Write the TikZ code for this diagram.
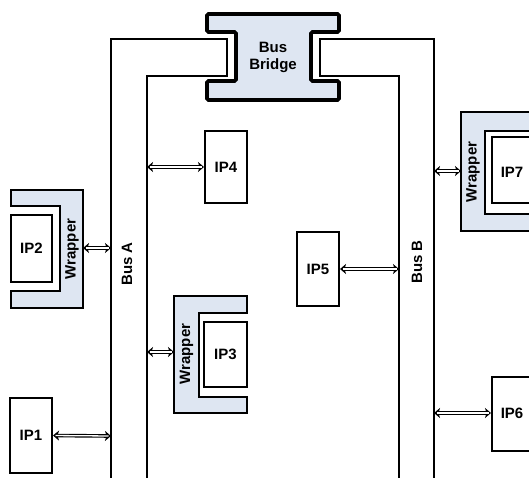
\documentclass[tikz,border=0pt]{standalone}
\usepackage{fontspec}
\setmainfont{Liberation Sans}
\usetikzlibrary{arrows.meta}
\definecolor{wrapfill}{RGB}{222,230,242}
\begin{document}
\begin{tikzpicture}[x=1pt,y=-1pt,
  lbl/.style={font=\fontsize{15}{18}\selectfont\bfseries, inner sep=0pt},
  ipbox/.style={draw, line width=2pt, fill=white, inner sep=0pt, font=\fontsize{15}{18}\selectfont\bfseries},
  wrap/.style={draw, line width=2pt, fill=wrapfill, line join=miter},
  bus/.style={draw, line width=2pt, line join=miter},
  bridge/.style={draw, line width=3.6pt, fill=wrapfill, rounded corners=1.5pt},
  biarrow/.style={draw, line width=3.6pt, {Stealth[length=6pt,width=10pt,inset=1.5pt]}-{Stealth[length=6pt,width=10pt,inset=1.5pt]},
     postaction={draw=white, line width=1.3pt, -, shorten <=2.5pt, shorten >=2.5pt}}]
\useasboundingbox (0,0) rectangle (529,477);
\clip (0,0) rectangle (529,477);
% buses
\draw[bus] (111,485) -- (111,39) -- (227,39) -- (227,76) -- (147,76) -- (147,485);
\draw[bus] (399,485) -- (399,76) -- (320,76) -- (320,39) -- (434,39) -- (434,485);
\node[lbl, rotate=90] (busA) at (127,264) {Bus A};
\node[lbl, rotate=90] (busB) at (417,262) {Bus B};
% bus bridge
\draw[bridge] (207,14) -- (339,14) -- (339,32) -- (311,32) -- (311,81) -- (339,81) -- (339,100) -- (207,100) -- (207,81) -- (236,81) -- (236,32) -- (207,32) -- cycle;
\node[lbl, align=center] (bridge) at (273,57) {Bus\\[-1pt]Bridge};
% bus coordinates
\coordinate (a2) at (111,248);
\coordinate (a1) at (111,436);
\coordinate (a4) at (147,167);
\coordinate (a3) at (147,352);
\coordinate (b5) at (399,269);
\coordinate (b7) at (434,171);
\coordinate (b6) at (434,413);
% IP2 wrapper
\draw[wrap] (11,190) -- (83,190) -- (83,308) -- (11,308) -- (11,291) -- (60,291) -- (60,206) -- (11,206) -- cycle;
\node[ipbox, minimum width=41pt, minimum height=67pt] (ip2) at (31.5,248.5) {IP2};
\node[lbl, rotate=90] (w2) at (72,249) {Wrapper};
\coordinate (w2e) at (83,248);
% IP3 wrapper
\draw[wrap] (174,296) -- (247,296) -- (247,313) -- (199,313) -- (199,397) -- (247,397) -- (247,413) -- (174,413) -- cycle;
\node[ipbox, minimum width=43pt, minimum height=65pt] (ip3) at (225.5,354.5) {IP3};
\node[lbl, rotate=90] (w3) at (186.5,354) {Wrapper};
\coordinate (w3w) at (174,352);
% IP7 wrapper
\draw[wrap] (545,112) -- (461,112) -- (461,231) -- (545,231) -- (545,214) -- (485,214) -- (485,131) -- (545,131) -- cycle;
\node[ipbox, minimum width=50pt, minimum height=66pt] (ip7) at (517,170) {};
\node[lbl] (ip7t) at (512,172) {IP7};
\node[lbl, rotate=90] (w7) at (473,172) {Wrapper};
\coordinate (w7w) at (461,171);
% plain IPs
\node[ipbox, minimum width=42pt, minimum height=75pt] (ip1) at (31,435.5) {IP1};
\node[ipbox, minimum width=42pt, minimum height=72pt] (ip4) at (226,167) {IP4};
\node[ipbox, minimum width=42pt, minimum height=74pt] (ip5) at (318,269) {IP5};
\node[ipbox, minimum width=50pt, minimum height=74pt] (ip6) at (517,414) {};
\node[lbl] (ip6t) at (512,413) {IP6};
% arrows
\draw[biarrow] (w2e) -- (a2);
\draw[biarrow] (ip1.east) -- (a1);
\draw[biarrow] (a4) -- (ip4.west);
\draw[biarrow] (a3) -- (w3w);
\draw[biarrow] (ip5.east) -- (b5);
\draw[biarrow] (b7) -- (w7w);
\draw[biarrow] (b6) -- (ip6.west |- b6);
\end{tikzpicture}
\end{document}
